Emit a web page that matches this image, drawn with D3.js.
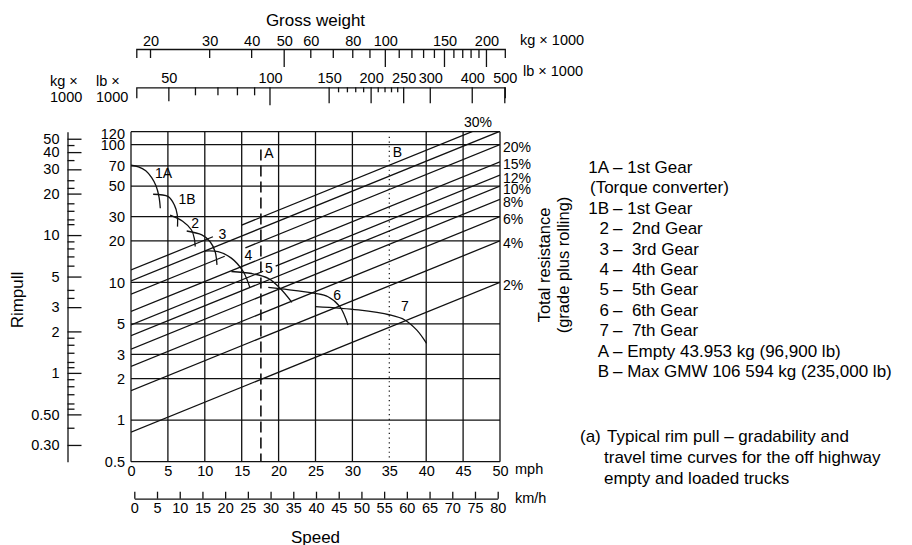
<!DOCTYPE html>
<html>
<head>
<meta charset="utf-8">
<script src="https://cdn.jsdelivr.net/npm/d3@7"></script>
<style>
  body { margin: 0; background: #fff; }
  svg text { font-family: "Liberation Sans", Arial, Helvetica, sans-serif; fill: #000; }
</style>
</head>
<body>
<div id="chart"></div>
<script>
// ---- data ----
const LB_PER_KG = 2.20462;

const speedTicks = [0, 5, 10, 15, 20, 25, 30, 35, 40, 45, 50];
const kmhTicks = [0, 5, 10, 15, 20, 25, 30, 35, 40, 45, 50, 55, 60, 65, 70, 75, 80];

// rim pull, lb x 1000 (inner scale) and kg x 1000 (outer scale)
const rimpullTicks = [120, 100, 70, 50, 30, 20, 10, 5, 3, 2, 1, 0.5];
const rimpullKgTicks = [50, 40, 30, 20, 10, 5, 3, 2, 1, 0.5, 0.3];
const rimpullKgLabels = ["50", "40", "30", "20", "10", "5", "3", "2", "1", "0.50", "0.30"];
const rimpullKgMinor = [45, 35, 25, 22, 17, 15, 13, 12, 9, 8, 7, 6, 4, 3.5,
                        1.8, 1.6, 1.4, 1.2, 1.1, 0.9, 0.8, 0.7, 0.6, 0.55, 0.4];

// gross weight scales
const weightKgLabels = [20, 30, 40, 50, 60, 80, 100, 150, 200];
const weightKgLong = [50, 100, 150, 200];
const weightKgShort = [20, 30, 40, 60, 70, 80, 90, 110, 120, 130, 140, 160, 170, 180, 190];
const weightLbLabels = [50, 100, 150, 200, 250, 300, 400, 500];
const weightLbMid = [60, 70, 80, 90];
const weightLbSmall = [160, 170, 180, 190, 210, 220, 230, 240];

// total resistance lines (%)
const grades = [30, 25, 20, 15, 12, 10, 8, 6, 4, 2];
const gradeLabels = ["30%", "", "20%", "15%", "12%", "10%", "8%", "6%", "4%", "2%"];
// [grade, from mph, to mph] where the line is broken round a gear label
const gradeGaps = [[30, 11.1, 15.0], [20, 12.7, 15.5], [12, 17.9, 19.6]];

// gear curves: [mph, rim pull lb x 1000]
const gear1A = [[0, 70.8], [1.0, 69.0], [2.0, 64.5], [2.8, 57.5], [3.4, 50], [3.8, 41.5], [3.97, 34.5]];
const gear1B = [[3.0, 43.6], [5.05, 41.9], [5.87, 36.5], [6.27, 30.9], [6.3, 25.4]];
const gear2 = [[5.3, 30.8], [7.0, 27.8], [8.2, 24.0], [8.6, 20.5], [8.7, 18.2]];
const gear3 = [[7.55, 23.6], [9.6, 22.1], [10.7, 19.8], [11.4, 16.7], [11.65, 13.4]];
const gear4 = [[10.0, 16.9], [11.8, 16.7], [13.6, 15.0], [15.2, 12.0], [16.1, 9.2]];
const gear5 = [[13.6, 12.0], [16.35, 11.6], [18.6, 10.7], [20.2, 9.06], [21.8, 7.17]];
const gear6 = [[18.6, 9.2], [20.4, 8.96], [24.9, 8.33], [26.7, 7.87], [28.3, 6.67], [29.4, 4.91]];
const gear7 = [[25.0, 6.67], [30.8, 6.31], [35.1, 5.8], [37.1, 5.34], [38.7, 4.52], [40.05, 3.61]];
const gearNames = ["1A", "1B", "2", "3", "4", "5", "6", "7"];
const gearLabelAt = [[4.4, 62], [7.6, 40], [8.7, 26.9], [12.4, 22.5], [15.9, 15.8], [18.7, 12.7], [27.95, 8.1], [37.1, 6.78]];

// empty / loaded reference speeds
const refKeys = ["A", "B"];
const refSpeeds = [17.6, 35.0];
const refTops = [92, 114];
const refLabelAt = [86.5, 89];

// legend and caption
const legendKeys = ["1A", "", "1B", "2", "3", "4", "5", "6", "7", "A", "B"];
const legendText = ["– 1st Gear", "(Torque converter)", "– 1st Gear", "–  2nd Gear", "–  3rd Gear",
  "–  4th Gear", "–  5th Gear", "–  6th Gear", "–  7th Gear",
  "– Empty 43.953 kg (96,900 lb)", "– Max GMW 106 594 kg (235,000 lb)"];
const captionLines = ["Typical rim pull – gradability and",
  "travel time curves for the off highway", "empty and loaded trucks"];

// ---- drawing ----
const svg = d3.select("#chart").append("svg")
  .attr("width", 912)
  .attr("height", 545);

const ink = "#111";

// scales
const x = d3.scaleLinear().domain([0, 50]).range([131, 500]);
const y = d3.scaleLog().domain([0.5, 124]).range([461.7, 131.7]);
const yKg = d3.scaleLog()
  .domain(y.domain().map(d => d / LB_PER_KG))
  .range(y.range());
const kmh = d3.scaleLinear().domain([0, 80]).range([134.3, 497.7]);
const wLb = d3.scaleLog().domain([40, 500]).range([136.3, 504.8]);
const wKg = d3.scaleLog().domain(wLb.domain().map(d => d / LB_PER_KG)).range(wLb.range());
// load carried along the speed axis by the resistance lines
const wPlot = d3.scaleLog().domain([41, 500]).range(x.range());

const plotTop = y.range()[1], plotBottom = y.range()[0];
const plotLeft = x.range()[0], plotRight = x.range()[1];

// clip for everything inside the grid
svg.append("defs").append("clipPath")
  .attr("id", "plot-clip")
  .append("rect")
  .attr("x", plotLeft).attr("y", plotTop)
  .attr("width", plotRight - plotLeft).attr("height", plotBottom - plotTop);

// grid (the loaded-speed line B takes the place of its gridline)
const grid = svg.append("g")
  .attr("stroke", ink)
  .attr("stroke-width", 1.3);

grid.selectAll(".vgrid")
  .data(speedTicks.filter(d => !refSpeeds.includes(d)))
  .enter()
  .append("line")
  .attr("x1", d => x(d)).attr("x2", d => x(d))
  .attr("y1", plotTop).attr("y2", plotBottom);

grid.selectAll(".hgrid")
  .data(rimpullTicks.filter(d => d <= 100))
  .enter()
  .append("line")
  .attr("x1", plotLeft).attr("x2", plotRight)
  .attr("y1", d => y(d)).attr("y2", d => y(d));

grid.append("line")
  .attr("x1", plotLeft).attr("x2", plotRight)
  .attr("y1", plotTop).attr("y2", plotTop);

// total resistance lines
function gradeSegments(g) {
  let cuts = [[x.domain()[0], x.domain()[1]]];
  gradeGaps.filter(d => d[0] === g).forEach(gap => {
    cuts = cuts.flatMap(([a, b]) => {
      if (gap[2] <= a || gap[1] >= b) return [[a, b]];
      return [[a, gap[1]], [gap[2], b]];
    });
  });
  return cuts.map(seg => seg.map(s => {
    const load = wPlot.invert(x(s));
    return [x(s), y(g / 100 * load)];
  }));
}

const gradeG = svg.append("g")
  .attr("clip-path", "url(#plot-clip)")
  .attr("stroke", ink)
  .attr("stroke-width", 1.3)
  .attr("fill", "none");

grades.forEach(g => {
  gradeG.selectAll(null)
    .data(gradeSegments(g))
    .enter()
    .append("path")
    .attr("d", d => d3.line()(d));
});

// grade labels at the right edge
svg.selectAll(".grade-label")
  .data(grades.map((g, i) => ({ g, label: gradeLabels[i] })).filter(d => d.label && d.g !== 30))
  .enter()
  .append("text")
  .attr("x", plotRight + 3)
  .attr("y", d => y(d.g / 100 * wPlot.domain()[1]) + 2.5)
  .attr("dominant-baseline", "central")
  .style("font-size", "14px")
  .text(d => d.label);

// the steepest line leaves through the top edge
svg.append("text")
  .attr("x", wPlot(y.domain()[1] / (grades[0] / 100)) + 6)
  .attr("y", plotTop - 5)
  .attr("text-anchor", "middle")
  .style("font-size", "14px")
  .text(gradeLabels[0]);

// gear curves
const gears = [gear1A, gear1B, gear2, gear3, gear4, gear5, gear6, gear7];
const curve = d3.line()
  .x(d => x(d[0]))
  .y(d => y(d[1]))
  .curve(d3.curveCatmullRom.alpha(0.5));

svg.append("g")
  .attr("clip-path", "url(#plot-clip)")
  .selectAll("path")
  .data(gears)
  .enter()
  .append("path")
  .attr("d", curve)
  .attr("fill", "none")
  .attr("stroke", ink)
  .attr("stroke-width", 1.3);

svg.selectAll(".gear-label")
  .data(gearNames)
  .enter()
  .append("text")
  .attr("x", (d, i) => x(gearLabelAt[i][0]))
  .attr("y", (d, i) => y(gearLabelAt[i][1]))
  .attr("text-anchor", "middle")
  .attr("dominant-baseline", "central")
  .style("font-size", "14px")
  .text(d => d);

// empty (A) dashed and loaded (B) dotted speed lines
svg.selectAll(".ref-line")
  .data(refKeys)
  .enter()
  .append("line")
  .attr("x1", (d, i) => x(refSpeeds[i]))
  .attr("x2", (d, i) => x(refSpeeds[i]))
  .attr("y1", (d, i) => y(refTops[i]))
  .attr("y2", plotBottom)
  .attr("stroke", ink)
  .attr("stroke-width", (d, i) => i === 0 ? 1.6 : 1.2)
  .attr("stroke-dasharray", (d, i) => i === 0 ? "11,5" : "1.2,3.5");

svg.selectAll(".ref-label")
  .data(refKeys)
  .enter()
  .append("text")
  .attr("x", (d, i) => x(refSpeeds[i]) + 8)
  .attr("y", (d, i) => y(refLabelAt[i]))
  .attr("text-anchor", "middle")
  .attr("dominant-baseline", "central")
  .style("font-size", "14px")
  .text(d => d);

// inner rim pull labels (lb x 1000)
const yAxis = svg.append("g")
  .attr("transform", `translate(${plotLeft},0)`)
  .call(d3.axisLeft(y).tickValues(rimpullTicks).tickSize(0).tickPadding(6).tickFormat(d => d));
yAxis.select(".domain").remove();
yAxis.selectAll("text").style("font-size", "14.5px");

// outer rim pull scale (kg x 1000)
const kgAxis = svg.append("g")
  .attr("transform", "translate(67.5,0)")
  .call(d3.axisLeft(yKg)
    .tickValues(rimpullKgTicks)
    .tickSizeInner(-14)
    .tickSizeOuter(0)
    .tickPadding(8)
    .tickFormat((d, i) => rimpullKgLabels[i]));
kgAxis.selectAll("text").style("font-size", "14.5px");

const kgMinor = svg.append("g")
  .attr("transform", "translate(67.5,0)")
  .call(d3.axisLeft(yKg).tickValues(rimpullKgMinor).tickSizeInner(-7).tickSizeOuter(0).tickFormat(""));
kgMinor.select(".domain").remove();

// speed labels (mph)
const mphAxis = svg.append("g")
  .attr("transform", `translate(0,${plotBottom})`)
  .call(d3.axisBottom(x).tickValues(speedTicks).tickSize(0).tickPadding(4));
mphAxis.select(".domain").remove();
mphAxis.selectAll("text").style("font-size", "14.5px");

// km/h scale
const kmhAxis = svg.append("g")
  .attr("transform", "translate(0,498.7)")
  .call(d3.axisBottom(kmh).tickValues(kmhTicks).tickSizeInner(-7).tickSizeOuter(0).tickPadding(4));
kmhAxis.selectAll("text").style("font-size", "14.5px");

// gross weight, kg x 1000
function tickMarks(yPos, scale, values, len) {
  svg.append("g")
    .selectAll("line")
    .data(values)
    .enter()
    .append("line")
    .attr("x1", d => scale(d)).attr("x2", d => scale(d))
    .attr("y1", yPos).attr("y2", yPos + len)
    .attr("stroke", ink)
    .attr("stroke-width", 1.3);
}

const kgTop = svg.append("g")
  .attr("transform", "translate(0,49)")
  .call(d3.axisTop(wKg).tickValues(weightKgLabels).tickSizeInner(0).tickSizeOuter(-9)
    .tickPadding(3).tickFormat(d => d));
kgTop.selectAll("text").style("font-size", "14.5px");
tickMarks(49, wKg, weightKgShort, 9);
tickMarks(49, wKg, weightKgLong, 18);

// gross weight, lb x 1000
const lbTop = svg.append("g")
  .attr("transform", "translate(0,87.3)")
  .call(d3.axisTop(wLb).tickValues(weightLbLabels).tickSizeInner(0).tickSizeOuter(-11)
    .tickPadding(4).tickFormat(d => d));
lbTop.selectAll("text").style("font-size", "14.5px");
tickMarks(87.3, wLb, weightLbLabels.filter(d => d !== 50 && d !== 100), 16);
tickMarks(87.3, wLb, [weightLbLabels[0]], 14);
tickMarks(87.3, wLb, [weightLbLabels[1]], 18);
tickMarks(87.3, wLb, weightLbMid, 8);
tickMarks(87.3, wLb, weightLbSmall, 5);

svg.selectAll(".domain, .tick line")
  .attr("stroke", ink)
  .attr("stroke-width", 1.3);

// titles and units
svg.append("text")
  .attr("x", (plotLeft + plotRight) / 2).attr("y", 26)
  .attr("text-anchor", "middle")
  .style("font-size", "17px")
  .text("Gross weight");

svg.append("text").attr("x", 520).attr("y", 45).style("font-size", "14.5px").text("kg × 1000");
svg.append("text").attr("x", 523).attr("y", 76).style("font-size", "14.5px").text("lb × 1000");

[["kg ×", "1000", 50], ["lb ×", "1000", 96]].forEach(([a, b, xx]) => {
  svg.append("text").attr("x", xx).attr("y", 86).style("font-size", "14.5px").text(a);
  svg.append("text").attr("x", xx).attr("y", 102).style("font-size", "14.5px").text(b);
});

svg.append("text").attr("x", plotRight + 15).attr("y", 469).attr("dominant-baseline", "central")
  .style("font-size", "14.5px").text("mph");
svg.append("text").attr("x", plotRight + 15).attr("y", 498.3).attr("dominant-baseline", "central")
  .style("font-size", "14.5px").text("km/h");

svg.append("text")
  .attr("x", (plotLeft + plotRight) / 2).attr("y", 537)
  .attr("text-anchor", "middle")
  .attr("dominant-baseline", "central")
  .style("font-size", "17px")
  .text("Speed");

svg.append("text")
  .attr("transform", "translate(17,300) rotate(-90)")
  .attr("text-anchor", "middle")
  .attr("dominant-baseline", "central")
  .style("font-size", "17px")
  .text("Rimpull");

svg.append("text")
  .attr("transform", "translate(544,265) rotate(-90)")
  .attr("text-anchor", "middle")
  .attr("dominant-baseline", "central")
  .style("font-size", "16.5px")
  .text("Total resistance");
svg.append("text")
  .attr("transform", "translate(563,265) rotate(-90)")
  .attr("text-anchor", "middle")
  .attr("dominant-baseline", "central")
  .style("font-size", "16.5px")
  .text("(grade plus rolling)");

// legend
const legend = svg.append("g").style("font-size", "17px").attr("xml:space", "preserve");
legendKeys.forEach((k, i) => {
  const yy = 167.5 + i * 20.4;
  if (k) {
    legend.append("text").attr("x", 609).attr("y", yy).attr("text-anchor", "end")
      .attr("dominant-baseline", "central").text(k);
    legend.append("text").attr("x", 613).attr("y", yy)
      .attr("dominant-baseline", "central").style("white-space", "pre").text(legendText[i]);
  } else {
    legend.append("text").attr("x", 590).attr("y", yy)
      .attr("dominant-baseline", "central").text(legendText[i]);
  }
});

// caption
const caption = svg.append("g").style("font-size", "17px");
caption.append("text").attr("x", 580).attr("y", 436).attr("dominant-baseline", "central").text("(a)");
captionLines.forEach((t, i) => {
  caption.append("text").attr("x", i === 0 ? 607 : 604).attr("y", 436 + i * 21)
    .attr("dominant-baseline", "central").text(t);
});
</script>
</body>
</html>
